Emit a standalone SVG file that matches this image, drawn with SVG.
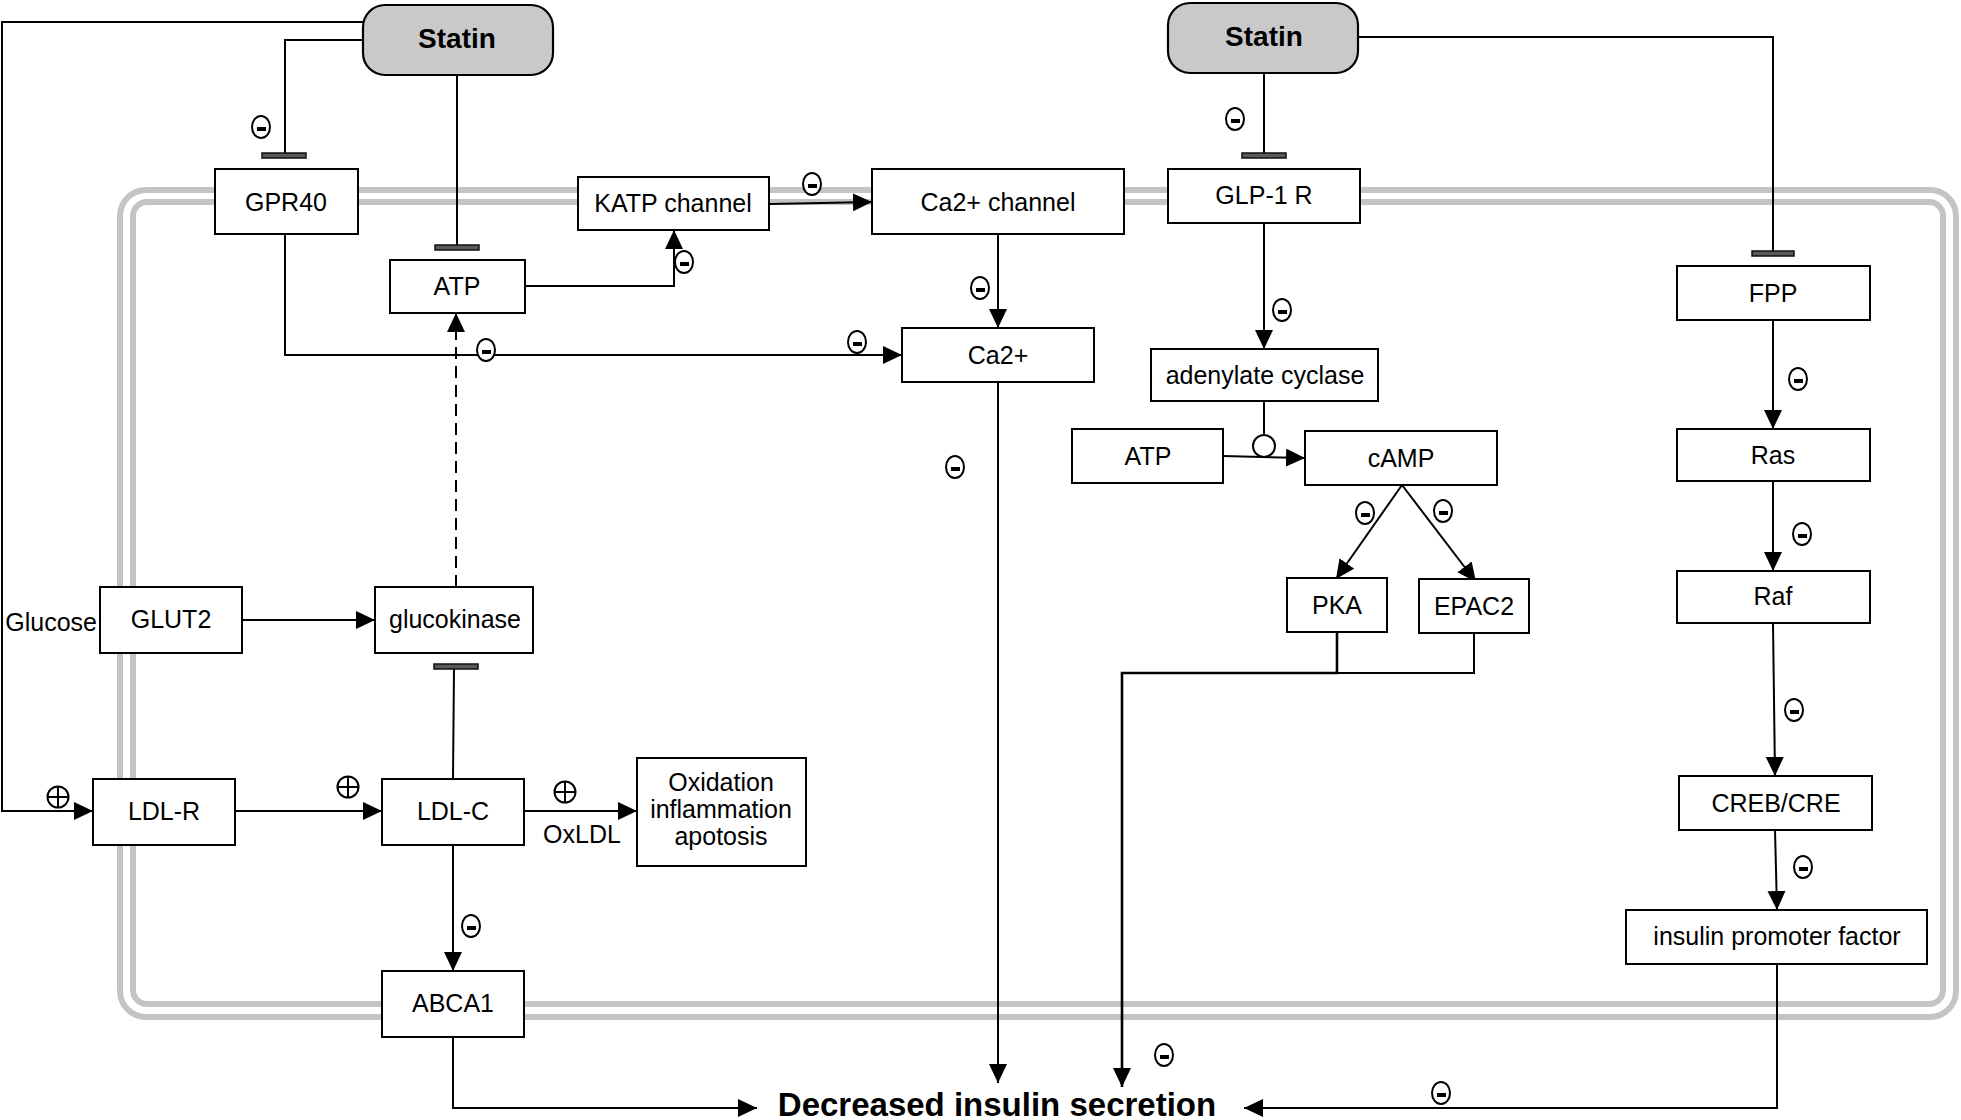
<svg xmlns="http://www.w3.org/2000/svg" xmlns:xlink="http://www.w3.org/1999/xlink" width="1961" height="1120" viewBox="0 0 1961 1120">
<style>
.box{fill:#fff;stroke:#000;stroke-width:2}
.statin{fill:#c9c9c9;stroke:#000;stroke-width:2.2}
.t{font-family:"Liberation Sans",Arial,sans-serif;font-size:25px;fill:#000;text-anchor:middle}
.tb{font-family:"Liberation Sans",Arial,sans-serif;font-weight:bold;fill:#000;text-anchor:middle}
.ln{fill:none;stroke:#000;stroke-width:2}
.arr{marker-end:url(#arr)}
.dash{stroke-dasharray:12 7}
.bar{fill:#5a5a5a;stroke:#111;stroke-width:1.5}
.mem{fill:none;stroke:#c4c4c4;stroke-width:6}
.sym{fill:#fff;stroke:#000;stroke-width:2}
</style>
<defs>
<marker id="arr" markerUnits="userSpaceOnUse" markerWidth="20" markerHeight="20" refX="19" refY="9" orient="auto">
<path d="M0,0 L19,9 L0,18 z" fill="#000"/>
</marker>
<g id="minus"><ellipse class="sym" cx="0" cy="0" rx="9" ry="11"/><rect x="-4" y="0" width="9" height="4" fill="#000"/></g>
<g id="plus"><circle class="sym" cx="0" cy="0" r="10.5"/><path d="M-10.5,0H10.5M0,-10.5V10.5" stroke="#000" stroke-width="2"/></g>
</defs>
<rect width="1961" height="1120" fill="#fff"/>
<g id="membrane">
<rect class="mem" x="120" y="190" width="1836" height="827" rx="26"/>
<rect class="mem" x="133" y="202" width="1810" height="802" rx="14"/>
</g>
<g id="connectors">
<path class="ln arr" d="M363,22 H2 V811 H93"/>
<path class="ln" d="M363,40 H285 V155"/>
<rect class="bar" x="262" y="153" width="44" height="5"/>
<path class="ln" d="M457,75 V247"/>
<rect class="bar" x="435" y="245" width="44" height="5"/>
<path class="ln arr" d="M285,234 V355 H902"/>
<path class="ln arr" d="M525,286 H674 V230"/>
<path class="ln arr dash" d="M456,587 V313"/>
<path class="ln arr" d="M770,204 L872,202"/>
<path class="ln arr" d="M998,234 V328"/>
<path class="ln arr" d="M998,382 V1083"/>
<path class="ln arr" d="M242,620 H375"/>
<path class="ln" d="M453,779 L454,668"/>
<rect class="bar" x="434" y="664" width="44" height="5"/>
<path class="ln arr" d="M235,811 H382"/>
<path class="ln arr" d="M524,811 H637"/>
<path class="ln arr" d="M453,845 V971"/>
<path class="ln arr" d="M453,1037 V1108 H757"/>
<path class="ln" d="M1358,37 H1773 V253"/>
<rect class="bar" x="1752" y="251" width="42" height="5"/>
<path class="ln" d="M1264,73 V155"/>
<rect class="bar" x="1242" y="153" width="44" height="5"/>
<path class="ln arr" d="M1264,223 V349"/>
<path class="ln" d="M1264,401 V435"/>
<path class="ln arr" d="M1223,456 L1305,458"/>
<circle cx="1264" cy="446" r="11" fill="#fff" stroke="#000" stroke-width="2"/>
<path class="ln arr" d="M1402,485 L1336,579"/>
<path class="ln arr" d="M1402,485 L1476,582"/>
<path class="ln arr" d="M1337,632 V673 H1122 V1087" style="stroke-width:2.6"/>
<path class="ln" d="M1474,633 V673 H1337"/>
<path class="ln arr" d="M1773,320 V429"/>
<path class="ln arr" d="M1773,481 V571"/>
<path class="ln arr" d="M1773,623 L1775,776"/>
<path class="ln arr" d="M1775,830 L1777,910"/>
<path class="ln arr" d="M1777,964 V1108 H1244"/>
</g>
<g id="signs">
<use xlink:href="#minus" x="261" y="127"/>
<use xlink:href="#minus" x="486" y="350"/>
<use xlink:href="#minus" x="857" y="342"/>
<use xlink:href="#minus" x="684" y="262"/>
<use xlink:href="#minus" x="812" y="184"/>
<use xlink:href="#minus" x="980" y="288"/>
<use xlink:href="#minus" x="955" y="467"/>
<use xlink:href="#minus" x="471" y="926"/>
<use xlink:href="#minus" x="1235" y="119"/>
<use xlink:href="#minus" x="1282" y="310"/>
<use xlink:href="#minus" x="1365" y="513"/>
<use xlink:href="#minus" x="1443" y="511"/>
<use xlink:href="#minus" x="1798" y="379"/>
<use xlink:href="#minus" x="1802" y="534"/>
<use xlink:href="#minus" x="1794" y="710"/>
<use xlink:href="#minus" x="1803" y="867"/>
<use xlink:href="#minus" x="1441" y="1093"/>
<use xlink:href="#minus" x="1164" y="1055"/>
<use xlink:href="#plus" x="58" y="797"/>
<use xlink:href="#plus" x="348" y="787"/>
<use xlink:href="#plus" x="565" y="792"/>
</g>
<g id="statin-left"><rect class="statin" x="363" y="5" width="190" height="70" rx="22"/><text class="tb" x="457" y="48" font-size="28">Statin</text></g>
<g id="statin-right"><rect class="statin" x="1168" y="3" width="190" height="70" rx="22"/><text class="tb" x="1264" y="46" font-size="28">Statin</text></g>
<g id="gpr40"><rect class="box" x="215" y="169" width="143" height="65"/><text class="t" x="286" y="211">GPR40</text></g>
<g id="katp"><rect class="box" x="578" y="177" width="191" height="53"/><text class="t" x="673" y="212">KATP channel</text></g>
<g id="atp-left"><rect class="box" x="390" y="260" width="135" height="53"/><text class="t" x="457" y="295">ATP</text></g>
<g id="ca-channel"><rect class="box" x="872" y="169" width="252" height="65"/><text class="t" x="998" y="211">Ca2+ channel</text></g>
<g id="ca"><rect class="box" x="902" y="328" width="192" height="54"/><text class="t" x="998" y="364">Ca2+</text></g>
<g id="glp1r"><rect class="box" x="1168" y="169" width="192" height="54"/><text class="t" x="1264" y="204">GLP-1 R</text></g>
<g id="fpp"><rect class="box" x="1677" y="266" width="193" height="54"/><text class="t" x="1773" y="302">FPP</text></g>
<g id="adenylate-cyclase"><rect class="box" x="1151" y="349" width="227" height="52"/><text class="t" x="1265" y="384">adenylate cyclase</text></g>
<g id="atp-right"><rect class="box" x="1072" y="429" width="151" height="54"/><text class="t" x="1148" y="465">ATP</text></g>
<g id="camp"><rect class="box" x="1305" y="431" width="192" height="54"/><text class="t" x="1401" y="467">cAMP</text></g>
<g id="pka"><rect class="box" x="1287" y="578" width="100" height="54"/><text class="t" x="1337" y="614">PKA</text></g>
<g id="epac2"><rect class="box" x="1419" y="579" width="110" height="54"/><text class="t" x="1474" y="615">EPAC2</text></g>
<g id="ras"><rect class="box" x="1677" y="429" width="193" height="52"/><text class="t" x="1773" y="464">Ras</text></g>
<g id="raf"><rect class="box" x="1677" y="571" width="193" height="52"/><text class="t" x="1773" y="605">Raf</text></g>
<g id="creb"><rect class="box" x="1679" y="776" width="193" height="54"/><text class="t" x="1776" y="812">CREB/CRE</text></g>
<g id="ipf"><rect class="box" x="1626" y="910" width="301" height="54"/><text class="t" x="1777" y="945">insulin promoter factor</text></g>
<g id="glut2"><rect class="box" x="100" y="587" width="142" height="66"/><text class="t" x="171" y="628">GLUT2</text></g>
<g id="glucose"><text class="t" x="97" y="631" style="text-anchor:end">Glucose</text></g>
<g id="glucokinase"><rect class="box" x="375" y="587" width="158" height="66"/><text class="t" x="455" y="628">glucokinase</text></g>
<g id="ldlr"><rect class="box" x="93" y="779" width="142" height="66"/><text class="t" x="164" y="820">LDL-R</text></g>
<g id="ldlc"><rect class="box" x="382" y="779" width="142" height="66"/><text class="t" x="453" y="820">LDL-C</text></g>
<g id="oxldl-label"><text class="t" x="582" y="843">OxLDL</text></g>
<g id="oxidation"><rect class="box" x="637" y="758" width="169" height="108"/><text class="t" x="721" y="791">Oxidation</text><text class="t" x="721" y="818">inflammation</text><text class="t" x="721" y="845">apotosis</text></g>
<g id="abca1"><rect class="box" x="382" y="971" width="142" height="66"/><text class="t" x="453" y="1012">ABCA1</text></g>
<g id="decreased"><text class="tb" x="997" y="1116" font-size="33">Decreased insulin secretion</text></g>
</svg>
